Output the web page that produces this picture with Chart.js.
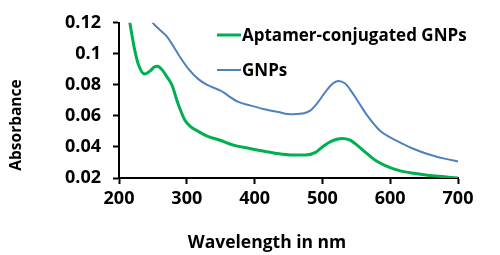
<!DOCTYPE html>
<html>
<head>
<meta charset="utf-8">
<script src="https://cdn.jsdelivr.net/npm/chart.js@4/dist/chart.umd.min.js"></script>
<style>
  html, body { margin: 0; padding: 0; background: #fff; }
  #wrap { width: 500px; height: 255px; }
</style>
</head>
<body>
<div id="wrap"><canvas id="chart" width="500" height="255"></canvas></div>
<script>
const xTicks = [200, 300, 400, 500, 600, 700];
const yTicks = [0.02, 0.04, 0.06, 0.08, 0.1, 0.12];
const xTitle = 'Wavelength in nm';
const yTitle = 'Absorbance';

const aptNm = [210, 216, 222, 228, 238, 246, 252, 257, 264, 271, 278, 287, 297, 306, 317, 330, 349, 370, 393, 408, 430, 457, 475, 490, 500, 512, 529, 540, 551, 565, 581, 598, 615, 635, 655, 680, 700];
const aptAbs = [0.135, 0.120, 0.105, 0.094, 0.087, 0.089, 0.0915, 0.092, 0.0895, 0.085, 0.080, 0.068, 0.0574, 0.053, 0.050, 0.047, 0.0443, 0.041, 0.039, 0.0377, 0.036, 0.0348, 0.0348, 0.0365, 0.040, 0.0435, 0.0455, 0.0445, 0.0412, 0.036, 0.0306, 0.027, 0.0246, 0.023, 0.0218, 0.0208, 0.0200];

const gnpNm = [240, 250, 260, 271, 280, 290, 303, 317, 330, 349, 376, 393, 413, 435, 455, 470, 482, 492, 502, 513, 524, 533, 541, 553, 566, 585, 600, 615, 635, 655, 680, 700];
const gnpAbs = [0.127, 0.120, 0.1155, 0.111, 0.105, 0.098, 0.090, 0.0837, 0.080, 0.0764, 0.069, 0.0668, 0.0645, 0.0625, 0.061, 0.0615, 0.0634, 0.068, 0.074, 0.080, 0.0825, 0.081, 0.077, 0.069, 0.0604, 0.0505, 0.0462, 0.0428, 0.0387, 0.0355, 0.0325, 0.0306];

const FAMILY = '"Open Sans", sans-serif';
const TICK_FONT = { family: FAMILY, size: 18, weight: 'bold' };

function pts(xs, ys) {
  return xs.map((x, i) => ({ x, y: ys[i] }));
}

// legend inside the plot plus the two axis titles, placed like the original
const overlay = {
  id: 'overlay',
  afterDraw(chart) {
    const ctx = chart.ctx;
    const rowY = [35, 70];
    ctx.save();
    ctx.fillStyle = '#000';
    ctx.textBaseline = 'middle';
    ctx.font = `bold 17px ${FAMILY}`;
    chart.data.datasets.forEach((ds, i) => {
      const y = rowY[i];
      ctx.strokeStyle = ds.borderColor;
      ctx.lineWidth = ds.borderWidth;
      ctx.beginPath();
      ctx.moveTo(217, y);
      ctx.lineTo(241, y);
      ctx.stroke();
      ctx.fillText(ds.label, 242, y + 1);
    });

    ctx.textAlign = 'center';
    ctx.font = `bold 17.5px ${FAMILY}`;
    ctx.fillText(xTitle, 267, 243);

    ctx.font = `bold 15.5px ${FAMILY}`;
    ctx.translate(16, 125);
    ctx.rotate(-Math.PI / 2);
    ctx.fillText(yTitle, 0, 1);
    ctx.restore();
  }
};

new Chart(document.getElementById('chart'), {
  type: 'line',
  data: {
    datasets: [
      {
        label: 'Aptamer-conjugated GNPs',
        data: pts(aptNm, aptAbs),
        borderColor: '#00b050',
        borderWidth: 3,
        pointRadius: 0,
        cubicInterpolationMode: 'monotone',
      },
      {
        label: 'GNPs',
        data: pts(gnpNm, gnpAbs),
        borderColor: '#4f81bd',
        borderWidth: 2,
        pointRadius: 0,
        cubicInterpolationMode: 'monotone',
      },
    ],
  },
  options: {
    responsive: false,
    animation: false,
    layout: { padding: { left: 0, right: 42, top: 10, bottom: 0 } },
    plugins: { legend: { display: false }, tooltip: { enabled: false } },
    scales: {
      x: {
        type: 'linear',
        min: 200,
        max: 700,
        afterBuildTicks: (s) => { s.ticks = xTicks.map(v => ({ value: v })); },
        ticks: { color: '#000', font: TICK_FONT, padding: 4, maxRotation: 0 },
        grid: { drawOnChartArea: false, tickLength: 6, tickColor: '#000', tickWidth: 2 },
        border: { color: '#000', width: 2 },
        afterFit: (s) => { s.height = 77; },
      },
      y: {
        min: 0.02,
        max: 0.12,
        afterBuildTicks: (s) => { s.ticks = yTicks.map(v => ({ value: v })); },
        ticks: { color: '#000', font: TICK_FONT, padding: 12, callback: (v) => String(Number(v.toFixed(2))) },
        grid: { drawOnChartArea: false, tickLength: 6, tickColor: '#000', tickWidth: 2 },
        border: { color: '#000', width: 2 },
        afterFit: (s) => { s.width = 119; },
      },
    },
  },
  plugins: [overlay],
});
</script>
</body>
</html>
